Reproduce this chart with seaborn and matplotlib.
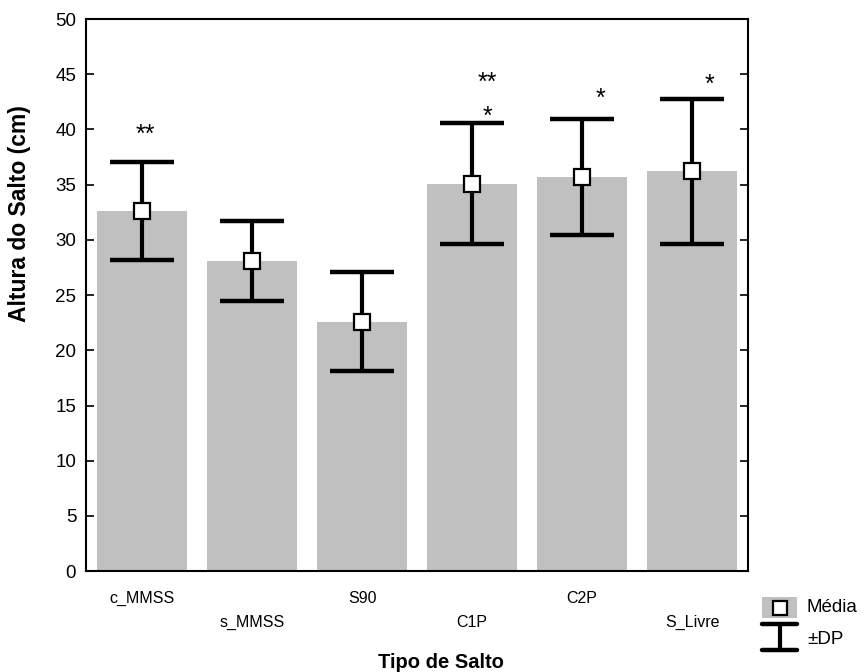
import matplotlib
matplotlib.use("Agg")
import matplotlib.pyplot as plt
import seaborn as sns
import pandas as pd
from matplotlib.patches import Rectangle
from matplotlib.lines import Line2D

categories = ["c_MMSS", "s_MMSS", "S90", "C1P", "C2P", "S_Livre"]
means = [32.6, 28.1, 22.6, 35.1, 35.7, 36.2]
sds = [4.45, 3.6, 4.45, 5.45, 5.25, 6.6]
stars = ["**", "", "", "**\n*", "*", "*"]

sns.set_theme(style="white")
plt.rcParams["font.family"] = ["Liberation Sans", "DejaVu Sans"]
plt.rcParams["text.color"] = "black"
plt.rcParams["axes.labelcolor"] = "black"
plt.rcParams["xtick.color"] = "black"
plt.rcParams["ytick.color"] = "black"

df = pd.DataFrame({"Tipo": categories, "Altura": means, "SD": sds})

fig = plt.figure(figsize=(8.64, 6.72), dpi=100)
ax = fig.add_axes([0.0995, 0.150, 0.7665, 0.8217])

sns.barplot(data=df, x="Tipo", y="Altura", color="#c0c0c0", saturation=1,
            width=0.82, errorbar=None, ax=ax, zorder=1)
for p in ax.patches:
    p.set_edgecolor("none")

xs = list(range(len(categories)))
ax.errorbar(xs, df["Altura"], yerr=df["SD"], fmt="none", ecolor="black",
            elinewidth=3.0, capsize=23, capthick=3.2, zorder=3)
ax.plot(xs, df["Altura"], ls="none", marker="s", markersize=11,
        markerfacecolor="white", markeredgecolor="black", markeredgewidth=1.6, zorder=4)

# significance marks
star_pos = [(0.03, 39.5), None, None, (0.14, 44.2), (0.17, 42.8), (0.16, 44.0)]
for i, (s, pos) in enumerate(zip(stars, star_pos)):
    if not s:
        continue
    dx, y = pos
    if "\n" in s:
        top, bot = s.split("\n")
        ax.text(i + dx, y, top, ha="center", va="center", fontsize=18)
        ax.text(i + dx, y - 3.1, bot, ha="center", va="center", fontsize=18)
    else:
        ax.text(i + dx, y, s, ha="center", va="center", fontsize=18)

ax.set_xlim(-0.51, 5.51)
ax.set_ylim(0, 50)
ax.set_yticks(range(0, 51, 5))
ax.set_xticks(xs)
labels = [c if i % 2 == 0 else "\n" + c for i, c in enumerate(categories)]
ax.set_xticklabels(labels, fontsize=11.5, linespacing=1.75)
ax.tick_params(axis="y", direction="in", length=6, width=1.2, labelsize=13.5,
               left=True, right=True, pad=7)
ax.tick_params(axis="x", direction="in", length=6, width=1.2, bottom=True, pad=14)
for sp in ax.spines.values():
    sp.set_visible(True)
    sp.set_color("black")
    sp.set_linewidth(1.5)

ax.set_xlabel("Tipo de Salto", fontsize=14.5, fontweight="bold")
ax.set_ylabel("Altura do Salto (cm)", fontsize=16.5, fontweight="bold")
ax.xaxis.set_label_coords(0.536, -0.148)
ax.yaxis.set_label_coords(-0.083, 0.648)

# legend (drawn in figure coordinates)
W, H = 864, 672
def fx(x): return x / W
def fy(y): return 1 - y / H
fig.add_artist(Rectangle((fx(762), fy(618)), fx(35), 21 / H, transform=fig.transFigure,
                         facecolor="#c0c0c0", edgecolor="none"))
fig.add_artist(Line2D([fx(779.5)], [fy(607.5)], transform=fig.transFigure, marker="s",
                      markersize=10, markerfacecolor="white", markeredgecolor="black",
                      markeredgewidth=1.6, ls="none"))
fig.add_artist(Line2D([fx(762), fx(797)], [fy(624), fy(624)], transform=fig.transFigure,
                      color="black", lw=3.2, solid_capstyle="round"))
fig.add_artist(Line2D([fx(762), fx(797)], [fy(650), fy(650)], transform=fig.transFigure,
                      color="black", lw=3.2, solid_capstyle="round"))
fig.add_artist(Line2D([fx(779.5), fx(779.5)], [fy(624), fy(650)], transform=fig.transFigure,
                      color="black", lw=3.0))
fig.text(fx(807), fy(607), "Média", fontsize=13.5, va="center", ha="left")
fig.text(fx(807), fy(640), "±DP", fontsize=13.5, va="center", ha="left")

fig.savefig("out.png", dpi=100)
